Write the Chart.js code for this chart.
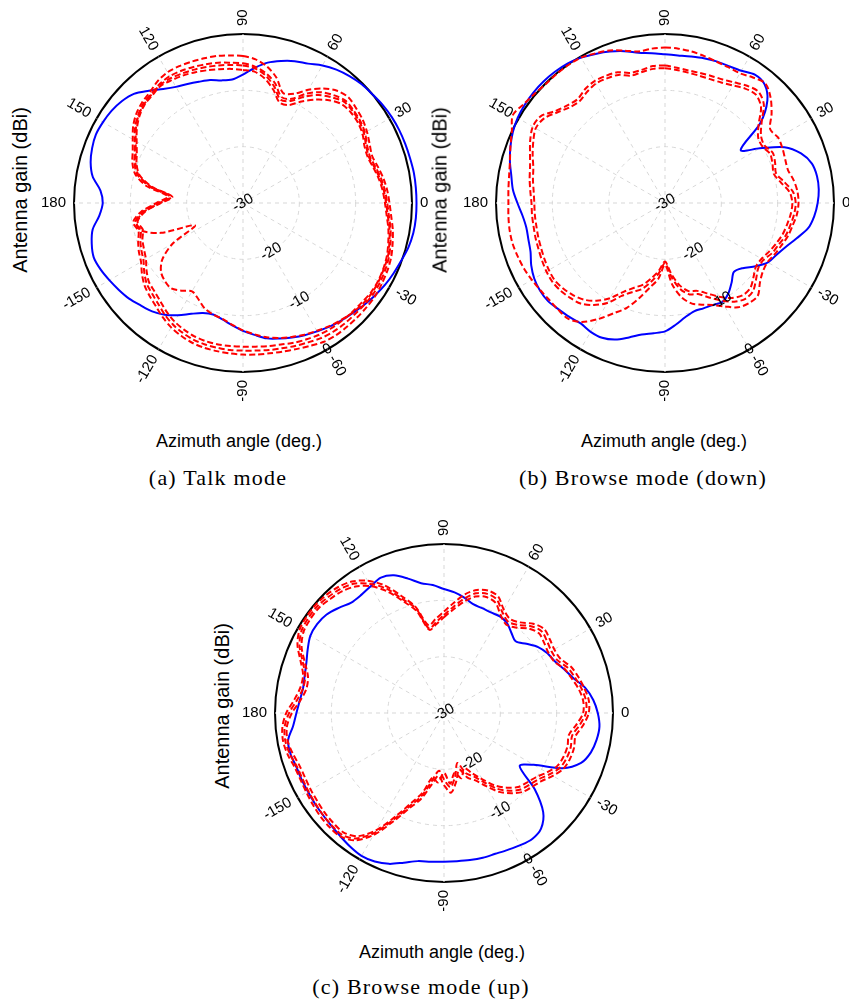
<!DOCTYPE html>
<html>
<head>
<meta charset="utf-8">
<script src="https://cdn.jsdelivr.net/npm/chart.js@4.4.1/dist/chart.umd.min.js"></script>
<style>
  body { margin: 0; background: #fff; width: 849px; height: 1003px; position: relative; overflow: hidden;
         font-family: "Liberation Sans", Arial, sans-serif; color: #000; }
  canvas { position: absolute; }
  .ylab { position: absolute; font-size: 20px; white-space: nowrap; transform: translate(-50%, -50%) rotate(-90deg); }
  .xlab { position: absolute; font-size: 18px; white-space: nowrap; transform: translate(-50%, -50%); }
  .cap  { position: absolute; font-family: "Liberation Serif", "Times New Roman", serif; font-size: 22px;
          letter-spacing: 1.2px; white-space: nowrap; transform: translate(-50%, -50%); }
</style>
</head>
<body>
<canvas id="talk" width="418" height="418" style="left:34px; top:-6px"></canvas>
<canvas id="down" width="418" height="418" style="left:456px; top:-6px"></canvas>
<canvas id="up" width="418" height="418" style="left:235px; top:504px"></canvas>

<div class="ylab" style="left:20px; top:190px">Antenna gain (dBi)</div>
<div class="ylab" style="left:440px; top:190px">Antenna gain (dBi)</div>
<div class="ylab" style="left:222px; top:706px">Antenna gain (dBi)</div>
<div class="xlab" style="left:239px; top:441px">Azimuth angle (deg.)</div>
<div class="xlab" style="left:664px; top:441px">Azimuth angle (deg.)</div>
<div class="xlab" style="left:442px; top:952px">Azimuth angle (deg.)</div>
<div class="cap" style="left:218px; top:478px">(a) Talk mode</div>
<div class="cap" style="left:643px; top:478px">(b) Browse mode (down)</div>
<div class="cap" style="left:421px; top:987px">(c) Browse mode (up)</div>

<script>
// azimuth grid, -180 .. 175 deg in 5 deg steps (all series below follow this order)
const step = 5;
const angles = [];
for (let a = -180; a < 180; a += step) angles.push(a);

const angleTicks = [0, 30, 60, 90, 120, 150, 180, -150, -120, -90, -60, -30];
const radialTicks = [-30, -20, -10, 0];

// (a) talk mode
const talkBlue = [
  -5.1, -4.4, -2.9, -2.2, -1.8, -2.1, -2.6, -3.1, -3.6, -4.3, -4.9, -5.8,
  -7.0, -8.3, -9.2, -9.5, -9.0, -8.2, -7.3, -6.5, -5.6, -5.1, -4.6, -4.1,
  -3.7, -3.2, -2.8, -2.4, -1.9, -1.4, -0.9, -0.5, -0.1, 0.4, 0.7, 0.8,
  0.8, 0.8, 0.8, 0.7, 0.65, 0.6, 0.5, 0.3, 0.0, -0.2, -0.6, -1.1,
  -1.8, -2.7, -3.2, -3.9, -4.7, -5.9, -7.2, -8.0, -7.9, -7.4, -7.1, -6.7,
  -6.2, -5.3, -4.0, -2.6, -1.9, -1.5, -1.3, -1.2, -1.5, -2.0, -2.9, -4.6
];
const talkRed1 = [
  -14.6, -11.8, -10.2, -10.8, -10.2, -9.6, -9.1, -8.1, -7.2, -6.6, -6.0, -5.2,
  -4.5, -4.0, -3.6, -3.4, -3.3, -3.2, -3.1, -3.0, -2.9, -2.7, -2.4, -2.0,
  -1.5, -1.3, -1.3, -1.3, -1.3, -1.3, -1.5, -1.7, -2.0, -2.5, -3.0, -3.6,
  -4.0, -4.3, -4.7, -5.2, -5.6, -5.2, -4.6, -4.1, -3.8, -3.5, -4.0, -5.2,
  -6.8, -8.6, -9.2, -7.0, -5.4, -4.4, -3.9, -3.7, -3.5, -3.4, -3.3, -3.2,
  -3.2, -3.6, -4.3, -4.7, -5.3, -6.2, -7.4, -8.4, -9.1, -10.2, -12.6, -16.6
];
const talkRed2 = [
  -15.0, -12.2, -10.6, -11.2, -10.6, -10.1, -9.6, -8.6, -7.7, -7.2, -6.6, -5.8,
  -5.1, -4.6, -4.2, -4.0, -3.9, -3.8, -3.8, -3.7, -3.5, -3.3, -3.0, -2.7,
  -2.3, -2.1, -2.0, -2.0, -1.9, -1.8, -1.9, -2.1, -2.4, -2.9, -3.4, -4.0,
  -4.4, -4.7, -5.1, -5.6, -6.0, -5.7, -5.0, -4.6, -4.4, -4.3, -5.0, -6.0,
  -7.6, -9.6, -10.0, -8.0, -6.6, -5.7, -5.2, -5.0, -4.7, -4.5, -4.3, -4.1,
  -4.0, -4.2, -4.7, -5.0, -5.7, -6.6, -7.8, -8.8, -9.5, -10.6, -13.2, -17.0
];
const talkRed3 = [
  -15.4, -12.6, -11.0, -11.6, -11.0, -10.6, -10.1, -9.1, -8.2, -7.8, -7.2, -6.4,
  -5.7, -5.2, -4.8, -4.6, -4.5, -4.5, -4.5, -4.4, -4.2, -4.0, -3.6, -3.3,
  -3.0, -2.8, -2.7, -2.6, -2.5, -2.3, -2.3, -2.5, -2.8, -3.3, -3.8, -4.4,
  -4.8, -5.1, -5.5, -6.0, -6.4, -6.2, -5.5, -5.1, -5.0, -5.2, -6.2, -7.6,
  -9.2, -10.8, -11.0, -9.2, -7.6, -6.6, -6.4, -6.1, -5.9, -5.6, -5.3, -5.0,
  -4.8, -4.6, -5.0, -5.3, -6.0, -7.0, -8.2, -9.2, -9.9, -11.0, -13.6, -17.4
];
const talkRed4 = [
  -15.2, -12.4, -10.8, -11.2, -14.5, -20.6, -15.6, -12.5, -11.0, -10.4, -10.2, -11.0,
  -11.9, -11.2, -10.1, -9.5, -9.1, -8.3, -7.4, -6.6, -5.8, -5.2, -4.7, -4.2,
  -3.8, -3.3, -2.9, -2.5, -2.2, -2.1, -2.2, -2.4, -2.6, -3.1, -3.6, -4.2,
  -4.6, -4.9, -5.3, -5.8, -6.2, -5.9, -5.2, -4.8, -4.6, -4.6, -5.5, -6.6,
  -8.2, -10.0, -10.5, -8.6, -7.0, -6.0, -5.6, -5.4, -5.2, -5.0, -4.8, -4.6,
  -4.4, -4.4, -4.8, -5.2, -5.8, -6.8, -8.0, -9.0, -9.7, -10.8, -13.4, -17.2
];

// (b) browse mode (down)
const downBlue = [
  -3.8, -4.6, -5.0, -4.9, -4.6, -3.8, -3.2, -2.9, -2.9, -3.3, -3.6, -3.9,
  -3.6, -3.6, -4.2, -5.3, -6.3, -6.8, -7.2, -8.3, -9.4, -10.1, -10.1, -10.0,
  -9.7, -10.4, -11.6, -12.7, -12.0, -10.4, -8.9, -8.2, -7.2, -5.8, -4.2, -3.4,
  -2.9, -2.6, -2.6, -3.0, -4.3, -6.6, -10.6, -13.6, -7.9, -4.3, -2.5, -2.2,
  -2.9, -3.2, -3.25, -3.4, -3.6, -3.7, -3.6, -3.3, -2.9, -2.1, -1.4, -0.8,
  -0.2, 0.2, 0.4, 0.5, 0.5, 0.4, 0.2, -0.2, -0.8, -1.5, -2.3, -2.9
];
const downRed1 = [
  -2.2, -2.1, -2.0, -2.0, -2.2, -2.4, -2.7, -3.0, -3.2, -3.2, -3.2, -4.2,
  -6.2, -8.4, -10.2, -12.6, -14.8, -16.5, -19.0, -15.5, -13.0, -11.5, -10.8, -10.0,
  -8.8, -7.4, -6.8, -6.7, -8.0, -8.8, -9.0, -8.5, -8.0, -7.4, -7.0, -6.5,
  -6.3, -6.4, -6.8, -7.4, -7.3, -7.0, -6.8, -7.2, -5.3, -3.5, -2.3, -2.8,
  -3.4, -3.4, -3.3, -3.0, -2.7, -2.5, -2.4, -2.5, -2.7, -2.0, -1.2, -0.7,
  -0.2, -0.1, -0.1, -0.1, 0.2, 0.6, 1.2, 0.0, -0.8, -1.5, -1.9, -2.1
];
const downRed2 = [
  -6.3, -6.3, -6.3, -6.2, -6.1, -5.9, -5.7, -5.6, -5.8, -6.2, -6.7, -7.9,
  -9.5, -11.8, -13.2, -14.2, -15.8, -17.5, -19.3, -16.8, -14.5, -13.2, -12.8, -11.5,
  -10.0, -8.6, -7.8, -7.9, -8.9, -9.8, -9.8, -9.0, -8.5, -7.8, -7.4, -7.0,
  -6.8, -7.2, -8.5, -9.6, -9.2, -8.9, -9.6, -9.2, -7.6, -5.2, -4.2, -4.6,
  -5.3, -5.8, -6.0, -6.1, -6.1, -5.9, -5.6, -5.6, -6.0, -6.1, -5.3, -5.1,
  -5.0, -5.3, -5.9, -5.5, -4.6, -3.1, -2.9, -3.6, -4.5, -5.2, -5.6, -6.0
];
const downRed3 = [
  -6.8, -6.8, -6.8, -6.7, -6.6, -6.4, -6.2, -6.1, -6.4, -6.9, -7.6, -8.8,
  -10.5, -12.6, -14.0, -15.0, -16.5, -18.0, -19.6, -17.4, -15.2, -13.8, -13.4, -12.3,
  -10.8, -9.4, -8.6, -8.6, -9.5, -10.3, -10.2, -9.6, -9.0, -8.4, -8.0, -7.6,
  -7.4, -7.8, -9.1, -10.0, -9.7, -9.4, -10.0, -9.8, -8.3, -5.9, -4.9, -5.2,
  -5.9, -6.4, -6.6, -6.6, -6.5, -6.3, -6.1, -6.1, -6.4, -6.6, -5.8, -5.6,
  -5.5, -5.9, -6.4, -6.0, -5.0, -3.8, -3.5, -4.2, -5.0, -5.8, -6.2, -6.6
];

// (c) browse mode (up)
const upBlue = [
  -3.8, -3.1, -1.9, -1.8, -2.1, -2.1, -2.1, -2.0, -1.9, -1.7, -1.4, -1.0,
  -0.7, -0.9, -1.5, -2.5, -3.3, -3.5, -3.6, -3.6, -3.5, -3.4, -3.4, -3.2,
  -2.9, -2.7, -3.2, -5.1, -9.0, -13.6, -11.6, -6.8, -4.1, -3.0, -2.5, -2.3,
  -2.7, -3.4, -4.5, -6.2, -7.3, -8.3, -8.8, -9.6, -10.9, -12.0, -11.4, -10.5,
  -10.2, -10.3, -10.2, -10.0, -9.2, -8.5, -8.0, -7.2, -6.6, -5.3, -4.0, -3.5,
  -4.0, -4.4, -4.4, -3.6, -2.8, -2.5, -2.6, -3.3, -4.0, -4.4, -4.6, -4.3
];
const upRed1 = [
  -2.0, -1.2, -1.0, -1.3, -1.8, -1.9, -1.8, -1.6, -1.4, -1.3, -1.4, -2.4,
  -5.0, -8.8, -12.0, -14.2, -17.0, -18.8, -17.2, -15.8, -17.6, -19.6, -17.8, -16.8,
  -15.0, -12.9, -11.4, -10.2, -9.6, -8.9, -7.7, -6.6, -6.2, -6.1, -6.3, -5.2,
  -4.3, -4.2, -4.7, -5.3, -6.0, -7.2, -7.4, -7.1, -6.8, -7.6, -9.0, -9.6,
  -8.8, -7.2, -6.9, -7.4, -8.6, -10.4, -12.0, -13.2, -14.2, -10.5, -7.9, -5.0,
  -2.9, -1.5, -0.8, -0.4, -0.2, -0.2, -0.4, -1.3, -2.9, -4.1, -4.1, -3.3
];
const upRed2 = [
  -2.5, -1.6, -1.4, -1.7, -2.2, -2.3, -2.2, -2.1, -1.9, -1.8, -1.8, -2.8,
  -5.5, -9.3, -12.5, -14.8, -17.8, -19.7, -18.2, -16.8, -18.6, -20.8, -18.6, -17.6,
  -15.8, -13.6, -12.0, -10.8, -10.2, -9.5, -8.3, -7.2, -6.8, -6.7, -6.9, -5.8,
  -4.8, -4.7, -5.2, -5.9, -6.6, -7.8, -8.0, -7.7, -7.4, -8.2, -9.6, -10.2,
  -9.3, -7.8, -7.5, -8.0, -9.4, -11.1, -12.6, -13.8, -14.8, -10.8, -8.5, -5.6,
  -3.5, -2.0, -1.3, -0.9, -0.6, -0.6, -0.8, -1.7, -3.3, -4.5, -4.6, -3.8
];
const upRed3 = [
  -3.0, -2.0, -1.8, -2.2, -2.7, -2.8, -2.7, -2.6, -2.4, -2.3, -2.3, -3.3,
  -6.0, -9.8, -13.0, -15.4, -18.4, -17.6, -19.4, -17.4, -19.2, -18.0, -19.6, -18.2,
  -16.4, -14.3, -12.7, -11.4, -10.8, -10.1, -8.9, -7.8, -7.4, -7.3, -7.5, -6.4,
  -5.3, -5.2, -5.7, -6.5, -7.2, -8.4, -8.6, -8.3, -8.0, -8.8, -10.2, -10.8,
  -9.9, -8.4, -8.1, -8.6, -10.0, -11.6, -13.0, -14.2, -15.0, -11.3, -8.9, -6.2,
  -4.0, -2.6, -1.8, -1.4, -1.0, -1.0, -1.2, -2.1, -3.7, -5.0, -5.2, -4.4
];

// radar goes clockwise from the top: index i sits at azimuth 90 - 5*i
const norm = a => ((a + 180) % 360 + 360) % 360 - 180;
const radarAngles = angles.map((_, i) => norm(90 - step * i));
const toRadar = arr => radarAngles.map(a => arr[angles.indexOf(a)]);

const font = '15px "Liberation Sans", Arial, sans-serif';

const polarLabels = {
  id: 'polarLabels',
  afterDatasetsDraw(chart) {
    const s = chart.scales.r;
    const ctx = chart.ctx;
    ctx.save();
    ctx.fillStyle = '#000';
    ctx.font = font;
    ctx.textAlign = 'center';
    ctx.textBaseline = 'middle';
    angleTicks.forEach(a => {
      const txt = String(a);
      const w = ctx.measureText(txt).width;
      const p = s.getPointPosition(radarAngles.indexOf(norm(a)), s.drawingArea + 8 + w / 2);
      let rot = a;
      if (a > 90) rot = a - 180;
      else if (a <= -90) rot = a + 180;
      ctx.save();
      ctx.translate(p.x, p.y);
      ctx.rotate(-rot * Math.PI / 180);
      ctx.fillText(txt, 0, 0);
      ctx.restore();
    });
    const k = radarAngles.indexOf(-60);
    radialTicks.forEach(v => {
      const p = s.getPointPosition(k, s.getDistanceFromCenterForValue(v));
      ctx.save();
      ctx.translate(p.x, p.y);
      ctx.rotate(-Math.PI / 6);
      ctx.fillText(String(v), 0, 0);
      ctx.restore();
    });
    ctx.restore();
  }
};

function makeChart(id, blue, reds) {
  const datasets = reds.map(r => ({
    data: toRadar(r),
    borderColor: '#ff0000',
    borderDash: [6, 3],
    borderWidth: 2,
    fill: false,
    clip: false
  }));
  datasets.push({ data: toRadar(blue), borderColor: '#0000ff', borderWidth: 2, fill: false, clip: false });

  new Chart(document.getElementById(id), {
    type: 'radar',
    data: { labels: radarAngles.map(String), datasets },
    options: {
      responsive: false,
      animation: false,
      layout: { padding: 40 },
      plugins: { legend: { display: false }, tooltip: { enabled: false } },
      elements: { point: { radius: 0 }, line: { tension: 0.3 } },
      scales: {
        r: {
          min: -30,
          max: 0,
          startAngle: 0,
          ticks: { display: false, stepSize: 10 },
          pointLabels: { display: false },
          grid: {
            circular: true,
            color: c => c.tick.value === 0 ? '#000' : '#d8d8d8',
            lineWidth: c => c.tick.value === 0 ? 2 : 1
          },
          border: { dash: c => c.tick && c.tick.value === 0 ? [] : [4, 4] },
          angleLines: {
            color: '#d8d8d8',
            lineWidth: c => radarAngles[c.index] % 30 === 0 ? 1 : 0,
            borderDash: [4, 4]
          }
        }
      }
    },
    plugins: [polarLabels]
  });
}

makeChart('talk', talkBlue, [talkRed1, talkRed2, talkRed3, talkRed4]);
makeChart('down', downBlue, [downRed1, downRed2, downRed3]);
makeChart('up', upBlue, [upRed1, upRed2, upRed3]);
</script>
</body>
</html>
